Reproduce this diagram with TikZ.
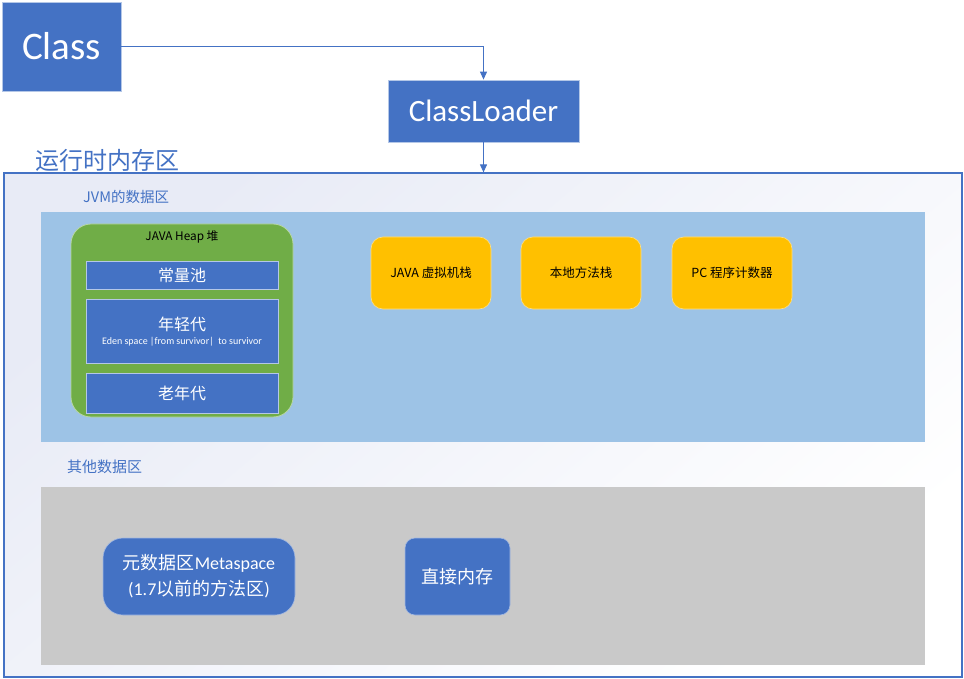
\documentclass[tikz,border=0pt]{standalone}
\usepackage{fontspec}
\setmainfont{Carlito}
\newfontfamily\cjk{Noto Sans CJK SC}
\usetikzlibrary{arrows.meta}
\definecolor{mblue}{HTML}{4472C4}
\definecolor{lblue}{HTML}{9DC3E6}
\definecolor{mgreen}{HTML}{70AD47}
\definecolor{morange}{HTML}{FFC000}
\definecolor{mgray}{HTML}{C9C9C9}
\definecolor{lav}{HTML}{E8EBF6}
\definecolor{tblue}{HTML}{4472C4}
\newcommand{\fs}[2]{\fontsize{#1}{#2}\selectfont}
\tikzset{
  sq/.style={draw=mblue!40!white, line width=0.8pt, fill=mblue, text=white, inner sep=0pt, align=center},
  area/.style={draw=none, inner sep=0pt},
  heapbox/.style={draw=mgreen!50!white, line width=0.8pt, fill=mgreen, rounded corners=20pt, inner sep=0pt},
  stackbox/.style={draw=morange!50!white, line width=0.6pt, fill=morange, rounded corners=12pt, inner sep=0pt, align=center},
  bluebox/.style={draw=mblue!50!white, line width=0.6pt, fill=mblue, text=white, inner sep=0pt, align=center},
  lbl/.style={text=tblue, inner sep=0pt, anchor=west},
  arr/.style={draw=mblue, line width=1pt, -{Triangle[width=7pt,length=8pt]}}
}
\begin{document}
\begin{tikzpicture}[x=1pt,y=-1pt]
\useasboundingbox (0,0) rectangle (964,679);
% outer runtime area
\node[draw=mblue, line width=1.2pt, shading=axis, top color=lav, bottom color=white, shading angle=40,
      minimum width=958pt, minimum height=504pt, inner sep=0pt] (outer) at (483,425) {};
\node[lbl] (rtl) at (35,160) {\fs{24}{29}\cjk 运行时内存区};
% top boxes
\node[sq, minimum width=119pt, minimum height=89pt] (cls) at (61.5,46.5) {\fs{39}{47}Class};
\node[sq, minimum width=191pt, minimum height=62pt] (cl) at (483.5,111) {\fs{31}{37}ClassLoader};
\draw[arr] (cls.east) -| (cl.north);
\draw[arr] (cl.south) -- (cl.south |- outer.north);
% JVM data area
\node[lbl] (jvml) at (83,197) {\fs{14.5}{17}\cjk JVM的数据区};
\node[area, fill=lblue, minimum width=884pt, minimum height=230pt] (jvm) at (483,327) {};
\node[heapbox, minimum width=222pt, minimum height=193pt] (heap) at (182,320.5) {};
\node[inner sep=0pt] (heapl) at (182,237) {\fs{11.8}{14}\cjk JAVA Heap 堆};
\node[sq, minimum width=192pt, minimum height=28pt] (cp) at (182,275) {\fs{16}{19}\cjk 常量池};
\node[sq, minimum width=192pt, minimum height=64pt] (yg) at (182,331) {};
\node[inner sep=0pt, text=white] (ygl) at (182,324) {\fs{16}{19}\cjk 年轻代};
\node[inner sep=0pt, text=white] (ygs) at (182,341.5) {\fs{10}{12}Eden space |from survivor|\ \ to survivor};
\node[sq, minimum width=192pt, minimum height=40pt] (old) at (182,393) {\fs{16}{19}\cjk 老年代};
\node[stackbox, minimum width=120pt, minimum height=72pt] (s1) at (431,273) {\fs{12.5}{15}\cjk JAVA 虚拟机栈};
\node[stackbox, minimum width=120pt, minimum height=72pt] (s2) at (581,273) {\fs{12.5}{15}\cjk 本地方法栈};
\node[stackbox, minimum width=120pt, minimum height=72pt] (s3) at (732,273) {\fs{12.5}{15}\cjk PC 程序计数器};
% other data area
\node[lbl] (othl) at (67,467) {\fs{15}{18}\cjk 其他数据区};
\node[area, fill=mgray, minimum width=884pt, minimum height=178pt] (oth) at (483,576) {};
\node[bluebox, rounded corners=20pt, minimum width=192pt, minimum height=77pt, font=\fs{18}{22}] (meta) at (199,576.5)
  {{\cjk 元数据区}Metaspace\\[4pt](1.7{\cjk 以前的方法区})};
\node[bluebox, rounded corners=10pt, minimum width=105pt, minimum height=77pt] (dm) at (457.5,576.5) {\fs{18}{22}\cjk 直接内存};
\end{tikzpicture}
\end{document}
